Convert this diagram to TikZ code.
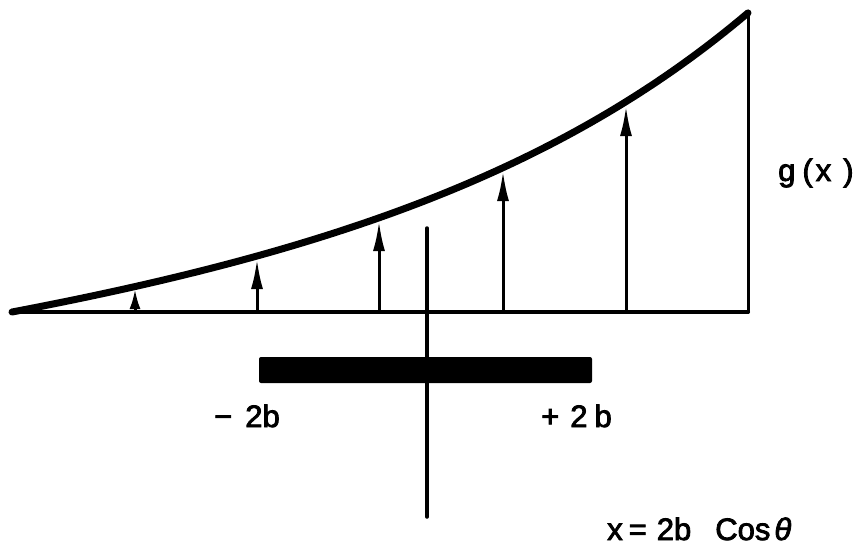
\documentclass[tikz,border=0pt]{standalone}
\usepackage{fontspec}
\setmainfont{Liberation Sans}
\newfontfamily\lblfont[FakeBold=2.6]{Liberation Sans}
\usetikzlibrary{arrows.meta}
\begin{document}
\begin{tikzpicture}[x=1pt,y=-1pt,
  lbl/.style={anchor=base west,inner sep=0pt,font=\lblfont\fontsize{31}{36}\selectfont},
  vec/.style={line width=3pt,-{Latex[length=30pt,width=12pt]}},
  vecs/.style={line width=3pt,-{Latex[length=20pt,width=11pt]}},
  curveline/.style={line width=7pt,line cap=round,line join=round}]
\useasboundingbox (0,0) rectangle (856,547);
% key points
\coordinate (L) at (12,312);
\coordinate (R) at (748,312);
\coordinate (Rt) at (748,14);
\coordinate (b1) at (135,312); \coordinate (t1) at (135,289);
\coordinate (b2) at (257,312); \coordinate (t2) at (257,259);
\coordinate (b3) at (379,312); \coordinate (t3) at (379,221);
\coordinate (b4) at (503,312); \coordinate (t4) at (503,171);
\coordinate (b5) at (626,312); \coordinate (t5) at (626,106);
\coordinate (axT) at (427,228);
\coordinate (axB) at (427,517);
% curve g(x)
\draw[curveline] plot[domain=12:748,samples=90]
  (\x,{312-0.109*(\x-12)-26.9*(exp(0.003*(\x-12))-1)});
% baseline and right edge
\draw[line width=3pt,line join=round] (L) -- (R) -- (Rt);
\draw[line width=4pt,line cap=round] (L) -- (R);
% arrows
\draw[vecs] (b1) -- (t1);
\draw[vec] (b2) -- (t2);
\draw[vec] (b3) -- (t3);
\draw[vec] (b4) -- (t4);
\draw[vec] (b5) -- (t5);
% bar and axis
\fill[rounded corners=2pt] (259,357) rectangle (592,383);
\draw[line width=3.5pt,line cap=round] (axT) -- (axB);
% labels
\node[lbl] (gx) at (778,181) {g\hspace{7pt}(\hspace{3pt}x\hspace{12pt})};
\node[lbl] (mb) at (214,427) {−\hspace{13pt}2b};
\node[lbl] (pb) at (541,427) {+\hspace{11pt}2\hspace{7pt}b};
\node[lbl] (eq) at (607,540) {x\hspace{6pt}=\hspace{10pt}2b\hspace{24pt}Cos\hspace{4pt}\textit{θ}};
\end{tikzpicture}
\end{document}
